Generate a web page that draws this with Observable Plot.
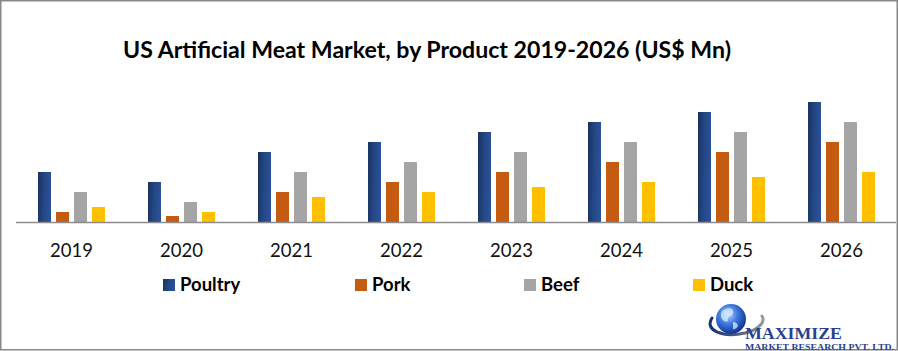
<!DOCTYPE html>
<html>
<head>
<meta charset="utf-8">
<script src="https://cdn.jsdelivr.net/npm/d3@7"></script>
<script src="https://cdn.jsdelivr.net/npm/@observablehq/plot@0.6"></script>
<style>
  html, body { margin: 0; padding: 0; background: #fff; overflow: hidden; }
  #wrap { position: relative; width: 898px; height: 351px; background: #fff; }
  #plot { position: absolute; left: 0; top: 70px; }
  #overlay { position: absolute; left: 0; top: 0; pointer-events: none; }
</style>
</head>
<body>
<div id="wrap">
  <svg width="0" height="0" style="position:absolute">
    <defs>
      <linearGradient id="poultryGrad" x1="0" y1="0" x2="1" y2="0.15">
        <stop offset="0" stop-color="#1a3160"/>
        <stop offset="0.55" stop-color="#244886"/>
        <stop offset="1" stop-color="#2a5098"/>
      </linearGradient>
      <radialGradient id="globeGrad" cx="0.4" cy="0.35" r="0.7">
        <stop offset="0" stop-color="#b9d6ff"/>
        <stop offset="0.45" stop-color="#3f7ae0"/>
        <stop offset="1" stop-color="#0b2a86"/>
      </radialGradient>
      <linearGradient id="swooshGrad" x1="0" y1="0" x2="1" y2="0">
        <stop offset="0" stop-color="#14307a"/>
        <stop offset="0.6" stop-color="#5a6480"/>
        <stop offset="1" stop-color="#9a9a9a"/>
      </linearGradient>
    </defs>
  </svg>
  <div id="plot"></div>
  <svg id="overlay" width="898" height="351"></svg>
</div>
<script>
// ---- data ----
const title = "US Artificial Meat Market, by Product 2019-2026 (US$ Mn)";
const years = ["2019", "2020", "2021", "2022", "2023", "2024", "2025", "2026"];
const products = ["Poultry", "Pork", "Beef", "Duck"];
const poultry = [50, 40, 70, 80, 90, 100, 110, 120];
const pork    = [10, 6, 30, 40, 50, 60, 70, 80];
const beef    = [30, 20, 50, 60, 70, 80, 90, 100];
const duck    = [15, 10, 25, 30, 35, 40, 45, 50];
const colors = ["url(#poultryGrad)", "#c55a11", "#a5a5a5", "#ffc000"];

const series = [poultry, pork, beef, duck];
const data = years.flatMap((year, i) =>
  products.map((product, j) => ({year, product, value: series[j][i]})));

const chart = Plot.plot({
  width: 898,
  height: 195,
  marginTop: 10,
  marginBottom: 43,
  marginLeft: 15,
  marginRight: 1,
  style: {fontFamily: "Lato, sans-serif", fontSize: "18.5px", color: "#111", background: "transparent", overflow: "visible"},
  facet: {data, x: "year"},
  fx: {domain: years, padding: 0, axis: "bottom", tickSize: 0, tickPadding: 21, label: null},
  x: {domain: products, axis: null, paddingInner: 0.29, paddingOuter: 1.045},
  y: {domain: [0, 142], axis: null},
  color: {domain: products, range: colors},
  marks: [
    Plot.barY(data, {x: "product", y: "value", fill: "product"}),
    Plot.ruleY([0], {stroke: "#8c8c8c", strokeWidth: 1.5})
  ]
});
document.getElementById("plot").appendChild(chart);

// ---- overlay: border, title, legend, logo ----
const ov = d3.select("#overlay");
ov.append("rect").attr("x", 0.75).attr("y", 0.75).attr("width", 896.5).attr("height", 349)
  .attr("fill", "none").attr("stroke", "#888").attr("stroke-width", 1.5);

ov.append("text").attr("x", 123).attr("y", 58)
  .attr("font-family", "Lato, sans-serif").attr("font-weight", 700).attr("font-size", 22)
  .attr("textLength", 608).attr("lengthAdjust", "spacingAndGlyphs")
  .attr("fill", "#000").text(title);

const legendX = [163, 355, 524, 693];
const lg = ov.append("g");
products.forEach((p, i) => {
  lg.append("rect").attr("x", legendX[i]).attr("y", 279).attr("width", 12).attr("height", 12)
    .attr("fill", colors[i]);
  lg.append("text").attr("x", legendX[i] + 17).attr("y", 291)
    .attr("font-family", "Lato, sans-serif").attr("font-weight", 700).attr("font-size", 18.5)
    .attr("fill", "#000").text(p);
});

// logo
const logo = ov.append("g");
logo.append("path")
  .attr("d", "M712,318 C704,330 722,338 745,333 C758,330 766,322 762,316")
  .attr("fill", "none").attr("stroke", "url(#swooshGrad)").attr("stroke-width", 3).attr("stroke-linecap", "round");
logo.append("circle").attr("cx", 731).attr("cy", 319).attr("r", 15).attr("fill", "url(#globeGrad)");
logo.append("path")
  .attr("d", "M722,311 q5,-4 10,-2 q3,4 -1,7 q-4,1 -3,5 q-3,2 -6,-2 q-2,-4 0,-8 z M733,322 q4,0 5,4 q-2,4 -5,3 z")
  .attr("fill", "#d7ecff").attr("opacity", 0.75);
logo.append("text").attr("x", 745).attr("y", 338.5)
  .attr("font-family", "'Liberation Serif', 'DejaVu Serif', serif").attr("font-weight", 700)
  .attr("font-size", 17).attr("fill", "#2b3f8e").attr("textLength", 97).attr("lengthAdjust", "spacingAndGlyphs")
  .text("MAXIMIZE");
logo.append("text").attr("x", 745).attr("y", 349.5)
  .attr("font-family", "'Liberation Serif', 'DejaVu Serif', serif").attr("font-weight", 700)
  .attr("font-size", 8).attr("fill", "#2b3f8e").attr("textLength", 149).attr("lengthAdjust", "spacingAndGlyphs")
  .text("MARKET RESEARCH PVT. LTD.");
</script>
</body>
</html>
